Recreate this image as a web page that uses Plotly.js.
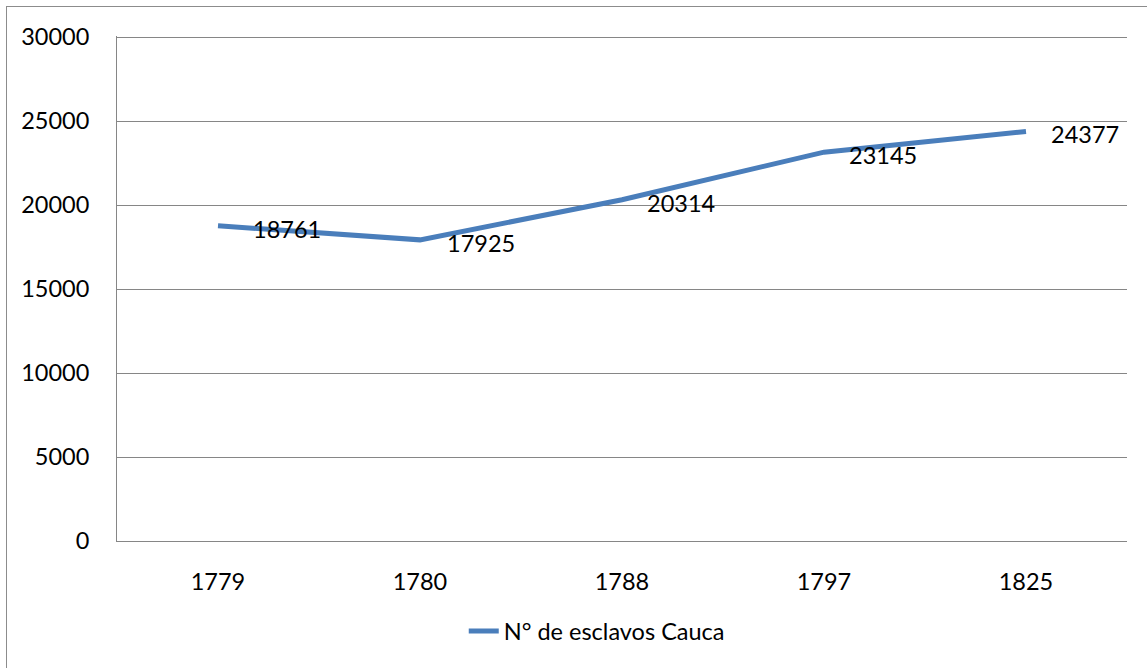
<!DOCTYPE html>
<html><head><meta charset="utf-8">
<script src="https://cdn.plot.ly/plotly-3.0.1.min.js"></script>
<style>
html,body{margin:0;padding:0;background:#fff;overflow:hidden}
#chart{width:1147px;height:668px}
#frame{position:absolute;left:6px;top:6px;width:1150px;height:670px;border:1px solid #8c8c8c;pointer-events:none}
</style></head>
<body>
<div id="chart"></div>
<div id="frame"></div>
<script>
const years = ['1779', '1780', '1788', '1797', '1825'];
const esclavos = [18761, 17925, 20314, 23145, 24377];
const seriesName = 'N° de esclavos Cauca';
const yTicks = [0, 5000, 10000, 15000, 20000, 25000, 30000];

const FONT = 'Lato, "Open Sans", sans-serif';
const FS = 23.5;
const labelShift = [33, 25, 23, 23, 23];

const trace = {
  x: years, y: esclavos, type: 'scatter', mode: 'lines', name: seriesName,
  line: {color: '#4a7ebb', width: 5}, hoverinfo: 'x+y'
};

const annotations = years.map((yr, i) => ({
  x: i, y: esclavos[i], xref: 'x', yref: 'y', text: String(esclavos[i]),
  showarrow: false, xanchor: 'left', yanchor: 'middle', xshift: labelShift[i], yshift: -3,
  font: {family: FONT, size: FS, color: '#000'}
}));

const layout = {
  width: 1147, height: 668,
  margin: {l: 117, r: 20, t: 36, b: 127},
  paper_bgcolor: '#fff', plot_bgcolor: '#fff',
  font: {family: FONT, size: FS, color: '#000'},
  showlegend: true,
  legend: {orientation: 'h', x: 0.475, xanchor: 'center', y: -0.135, yanchor: 'top',
           font: {family: FONT, size: FS, color: '#000'}},
  xaxis: {type: 'category', range: [-0.5, 4.5], showgrid: false, zeroline: false,
          showline: true, linecolor: '#868686', linewidth: 1, ticks: '', ticklabelstandoff: 20,
          tickfont: {family: FONT, size: FS}},
  yaxis: {range: [0, 30060], tickvals: yTicks, ticktext: yTicks.map(String),
          showgrid: true, gridcolor: '#868686', gridwidth: 1, zeroline: false,
          showline: true, linecolor: '#868686', linewidth: 1, ticks: '', ticklabelstandoff: 22,
          tickfont: {family: FONT, size: FS}},
  annotations: annotations
};

Plotly.newPlot('chart', [trace], layout, {displayModeBar: false, staticPlot: true});
</script>
</body></html>
